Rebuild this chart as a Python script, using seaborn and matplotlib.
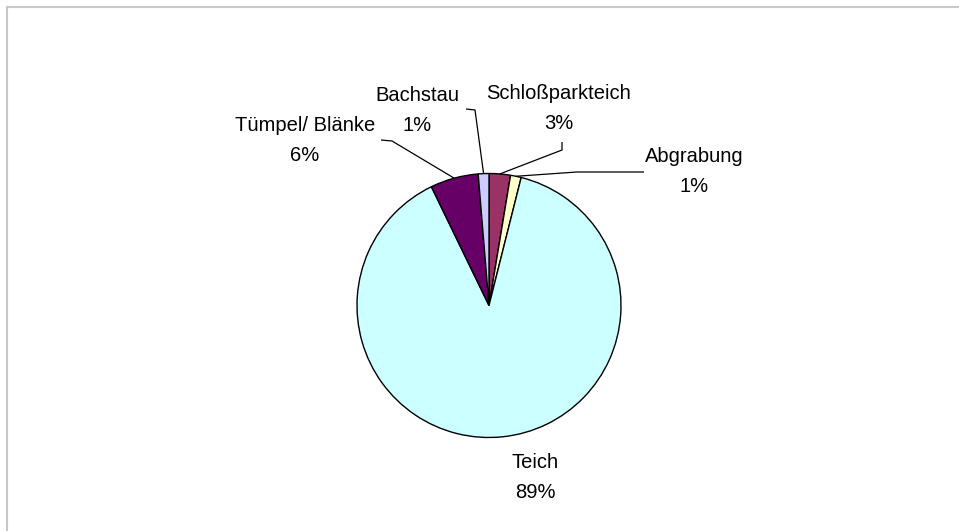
import matplotlib
matplotlib.use("Agg")
import matplotlib.pyplot as plt
import seaborn as sns
import numpy as np

# Gewässertypen (Anzahl), im Uhrzeigersinn ab 12 Uhr
categories = ["Schloßparkteich", "Abgrabung", "Teich", "Tümpel/ Blänke", "Bachstau"]
counts = [4, 2, 136, 9, 2]
colors = ["#993366", "#FFFFCC", "#CCFFFF", "#660066", "#CCCCFF"]

sns.set_theme(style="white")
plt.rcParams["font.family"] = ["Liberation Sans", "DejaVu Sans"]

W, H, DPI = 959, 531, 100
fig = plt.figure(figsize=(W / DPI, H / DPI), dpi=DPI)
fig.patch.set_facecolor("white")

# pixel layout of the pie
CX, CY, R = 489.0, 305.5, 132.0


def pt(px, py):
    """pixel position (from top-left) -> data units (pie radius = 1)"""
    return (px - CX) / R, (CY - py) / R


ax = fig.add_axes([0, 0, 1, 1])
ax.set_xlim(-CX / R, (W - CX) / R)
ax.set_ylim(-(H - CY) / R, CY / R)
ax.axis("off")

palette = sns.color_palette(colors)
wedges, _ = ax.pie(
    counts,
    colors=palette,
    startangle=90,
    counterclock=False,
    radius=1.0,
    center=(0, 0),
    wedgeprops=dict(edgecolor="black", linewidth=1.0),
    frame=False,
)
ax.set_xlim(-CX / R, (W - CX) / R)
ax.set_ylim(-(H - CY) / R, CY / R)

total = sum(counts)
pcts = [f"{round(c / total * 100)}%" for c in counts]

# label positions (pixel centres of the name line) and leader-line elbows
label_pos = {
    "Schloßparkteich": (559, 93),
    "Abgrabung": (694, 156),
    "Teich": (535, 463),
    "Tümpel/ Blänke": (305, 125),
    "Bachstau": (417, 95),
}
leaders = {
    "Schloßparkteich": [(562, 142), (562, 150)],
    "Abgrabung": [(644, 172), (577, 172)],
    "Tümpel/ Blänke": [(381, 140), (392, 141)],
    "Bachstau": [(466, 109), (475, 110)],
}

fs = 14.5
for name, pct, w in zip(categories, pcts, wedges):
    lx, ly = label_pos[name]
    ax.text(*pt(lx, ly), name, ha="center", va="center", fontsize=fs, color="black")
    ax.text(*pt(lx, ly + 30), pct, ha="center", va="center", fontsize=fs, color="black")
    if name in leaders:
        mid = np.deg2rad((w.theta1 + w.theta2) / 2)
        ex, ey = np.cos(mid), np.sin(mid)
        pts = [pt(*p) for p in leaders[name]] + [(ex, ey)]
        xs, ys = zip(*pts)
        ax.plot(xs, ys, color="black", linewidth=0.9, solid_capstyle="butt")

# light grey frame along the top and left edges
frame_kw = dict(color="#C8C8C8", linewidth=1.5, transform=fig.transFigure)
fig.add_artist(plt.Line2D([7 / W, 1], [1 - 7 / H, 1 - 7 / H], **frame_kw))
fig.add_artist(plt.Line2D([7 / W, 7 / W], [0, 1 - 7 / H], **frame_kw))

fig.savefig("out.png", dpi=DPI, facecolor="white")
